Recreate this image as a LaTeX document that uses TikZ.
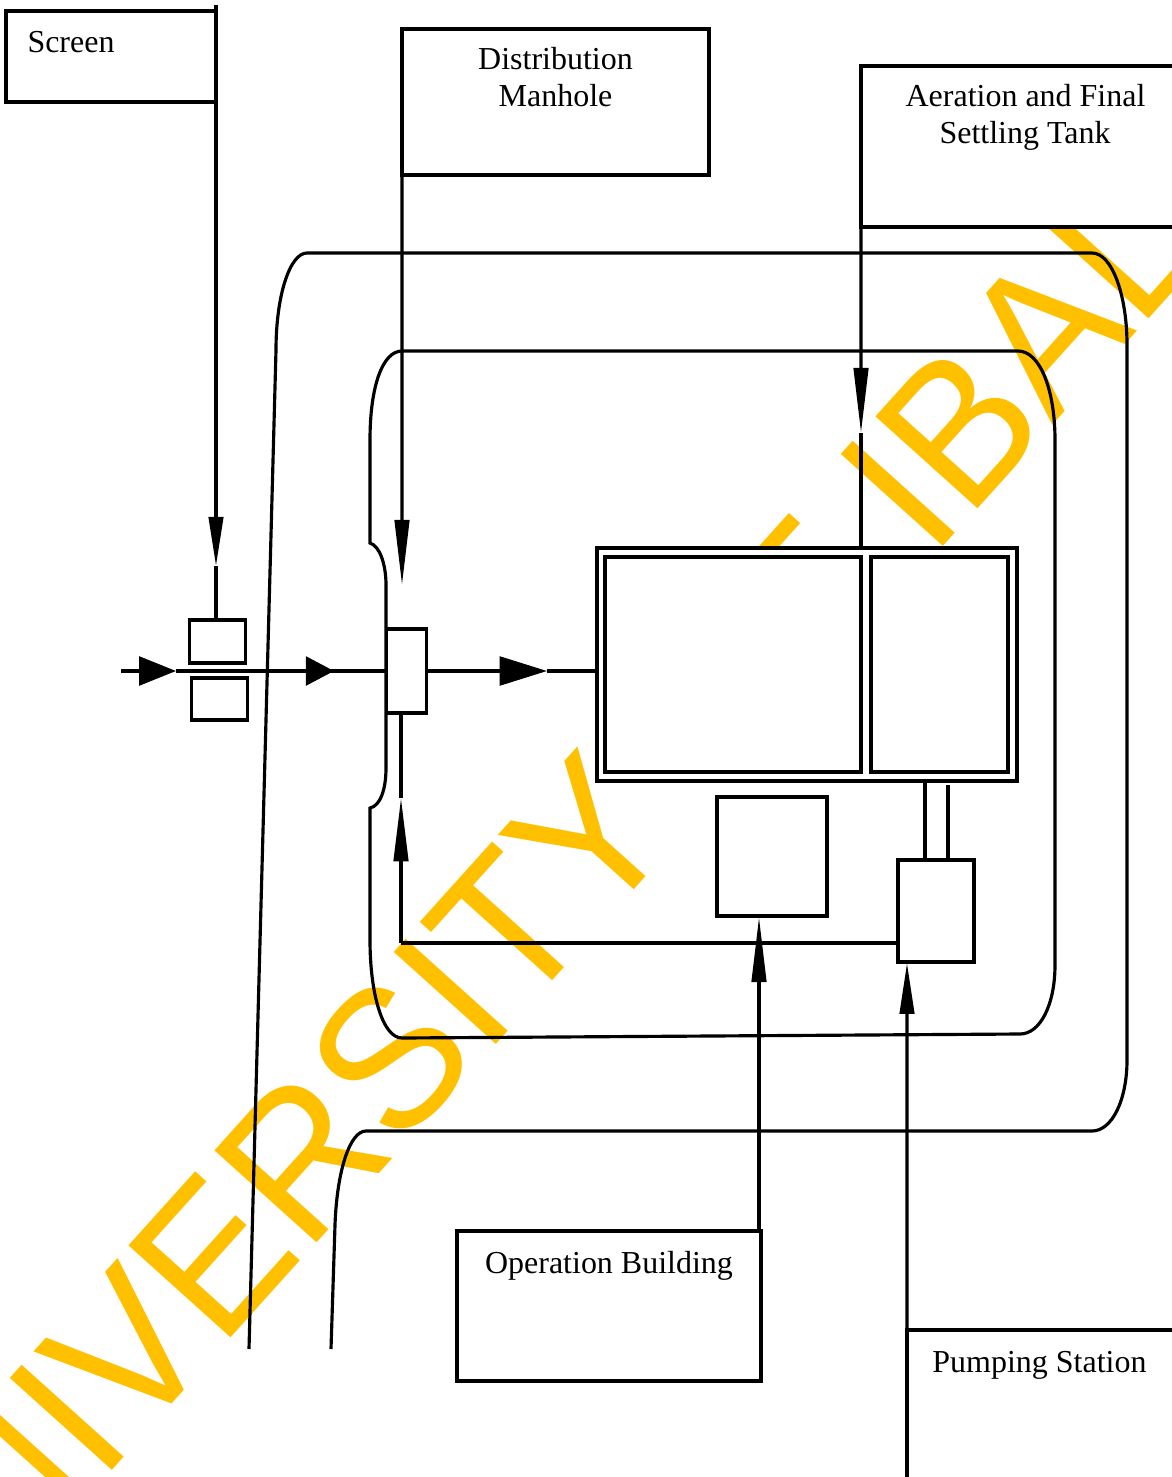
\documentclass[tikz,border=0pt]{standalone}
\usepackage{fontspec}
\setmainfont{Liberation Serif}
\newfontfamily\markfont[Kerning=Off]{Liberation Sans}
\usepackage{tikz}
\usetikzlibrary{arrows.meta}
\definecolor{markyellow}{HTML}{FFC000}
\tikzset{
  box/.style={draw,line width=1.8pt,fill=white,inner sep=0pt,outer sep=0pt},
  wire/.style={line width=1.8pt},
  boxtext/.style={inner sep=0pt,font=\fontsize{18.2}{21}\selectfont,align=center,anchor=base},
  downhead/.style={wire,-{Triangle[length=#1,width=8.2pt]}},
  sidehead/.style={wire,-{Triangle[length=#1,width=16.4pt]}},
}
\begin{document}
\begin{tikzpicture}[x=0.02cm,y=-0.02cm]
      \clip (0,0) rectangle (1172,1477);
      \fill[white] (0,0) rectangle (1172,1477);

      % Watermark
      \node[anchor=base west,transform shape,rotate=48,xscale=1.005,yscale=1.05,inner sep=0pt,text=markyellow,font=\markfont\fontsize{108.3}{120}\selectfont] (watermark) at (-85,1689) {UNIVERSITY OF IBADAN};

      % Labelled boxes
      \node[box,minimum width=4.2cm,minimum height=1.82cm] (screen) at (111,56.5) {};
      \node[box,minimum width=6.14cm,minimum height=2.92cm] (manhole) at (555.5,102) {};
      \node[box,minimum width=6.8cm,minimum height=3.22cm] (aeration) at (1031,146.5) {};
      \node[box,minimum width=6.08cm,minimum height=3cm] (building) at (609,1306) {};
      \node[box,minimum width=6.8cm,minimum height=3.6cm] (pumping) at (1077,1420) {};
      \node[boxtext] (screentext) at (71,53) {Screen};
      \node[boxtext] (manholetext) at (555.5,70) {Distribution};
      \node[boxtext] (manholetextb) at (555.5,107) {Manhole};
      \node[boxtext] (aerationtext) at (1025.5,107) {Aeration and Final};
      \node[boxtext] (aerationtextb) at (1025,143) {Settling Tank};
      \node[boxtext] (buildingtext) at (609,1273) {Operation Building};
      \node[boxtext] (pumpingtext) at (1039.5,1372) {Pumping Station};

      % Tank
      \node[box,minimum width=8.4cm,minimum height=4.66cm] (tank) at (807,664.5) {};
      \node[box,minimum width=5.12cm,minimum height=4.3cm] (tankleft) at (733,664.5) {};
      \node[box,minimum width=2.74cm,minimum height=4.3cm] (tankright) at (939.5,664.5) {};

      % Small units
      \node[box,minimum width=1.12cm,minimum height=0.86cm] (screenup) at (217.5,641.5) {};
      \node[box,minimum width=1.12cm,minimum height=0.84cm] (screendown) at (219.5,699) {};
      \node[box,minimum width=0.8cm,minimum height=1.68cm] (chamber) at (406.5,671) {};
      \node[box,minimum width=2.2cm,minimum height=2.38cm] (sludge) at (772,856.5) {};
      \node[box,minimum width=1.52cm,minimum height=2.04cm] (pump) at (936,911) {};

      % Free ends and arrow tips
      \coordinate (inlet) at (121,671);
      \coordinate (tipa) at (176,671);
      \coordinate (tipb) at (334,671);
      \coordinate (tipc) at (547,671);
      \coordinate (screentop) at (216,5);
      \coordinate (tipscreen) at (216,566);
      \coordinate (tipmanhole) at (402,585);
      \coordinate (tipaeration) at (861,433);
      \coordinate (tipbuilding) at (759,917);
      \coordinate (tippump) at (907,963);
      \coordinate (tipreturn) at (401,798);
      \coordinate (corner) at (401,943);

      % Flow line
      \draw[sidehead=21pt] (inlet) -- (tipa);
      \draw[wire] (tipa) -- (tipb);
      \draw[sidehead=16pt] (tipa) -- (tipb);
      \draw[wire] (tipb) -- (chamber.west);
      \draw[sidehead=27pt] (chamber.east) -- (tipc);
      \draw[wire] (tipc) -- (tank.west |- tipc);

      % Labels to units
      \draw[downhead=28pt] (screentop) -- (tipscreen);
      \draw[wire] (tipscreen) -- (tipscreen |- screenup.north);
      \draw[downhead=37pt] (manhole.south west) -- (tipmanhole);
      \draw[downhead=37pt] (aeration.south west) -- (tipaeration);
      \draw[wire] (tipaeration) -- (tipaeration |- tank.north);
      \draw[downhead=37pt] (tipbuilding |- building.north) -- (tipbuilding);
      \draw[downhead=29pt] (pumping.north west) -- (tippump);

      % Return line
      \draw[wire] (pump.west |- corner) -- (corner);
      \draw[downhead=36pt] (corner) -- (tipreturn);
      \draw[wire] (tipreturn) -- (tipreturn |- chamber.south);
      \draw[wire] (925,781) -- (925,860);
      \draw[wire] (948,785) -- (948,860);

      % Inner wall
      \draw[wire] (370,440) .. controls (370,385) and (383,351) .. (402,351)
        -- (1018,351) .. controls (1040,351) and (1055,390) .. (1055,440)
        -- (1055,965) .. controls (1055,1005) and (1040,1034) .. (1020,1034)
        -- (402,1038) .. controls (383,1038) and (370,995) .. (370,940)
        -- (370,808) .. controls (380,806) and (386,790) .. (386,768)
        -- (386,585) .. controls (386,565) and (380,546) .. (370,543) -- cycle;

      % Outer wall
      \draw[wire] (249,1349) -- (276,350) .. controls (276,295) and (290,253) .. (307,253)
        -- (1092,253) .. controls (1112,253) and (1127,295) .. (1127,345)
        -- (1127,1060) .. controls (1127,1100) and (1112,1131) .. (1092,1131)
        -- (366,1131) .. controls (350,1131) and (337,1170) .. (335,1225)
        -- (331,1349);
    \end{tikzpicture}
\end{document}
